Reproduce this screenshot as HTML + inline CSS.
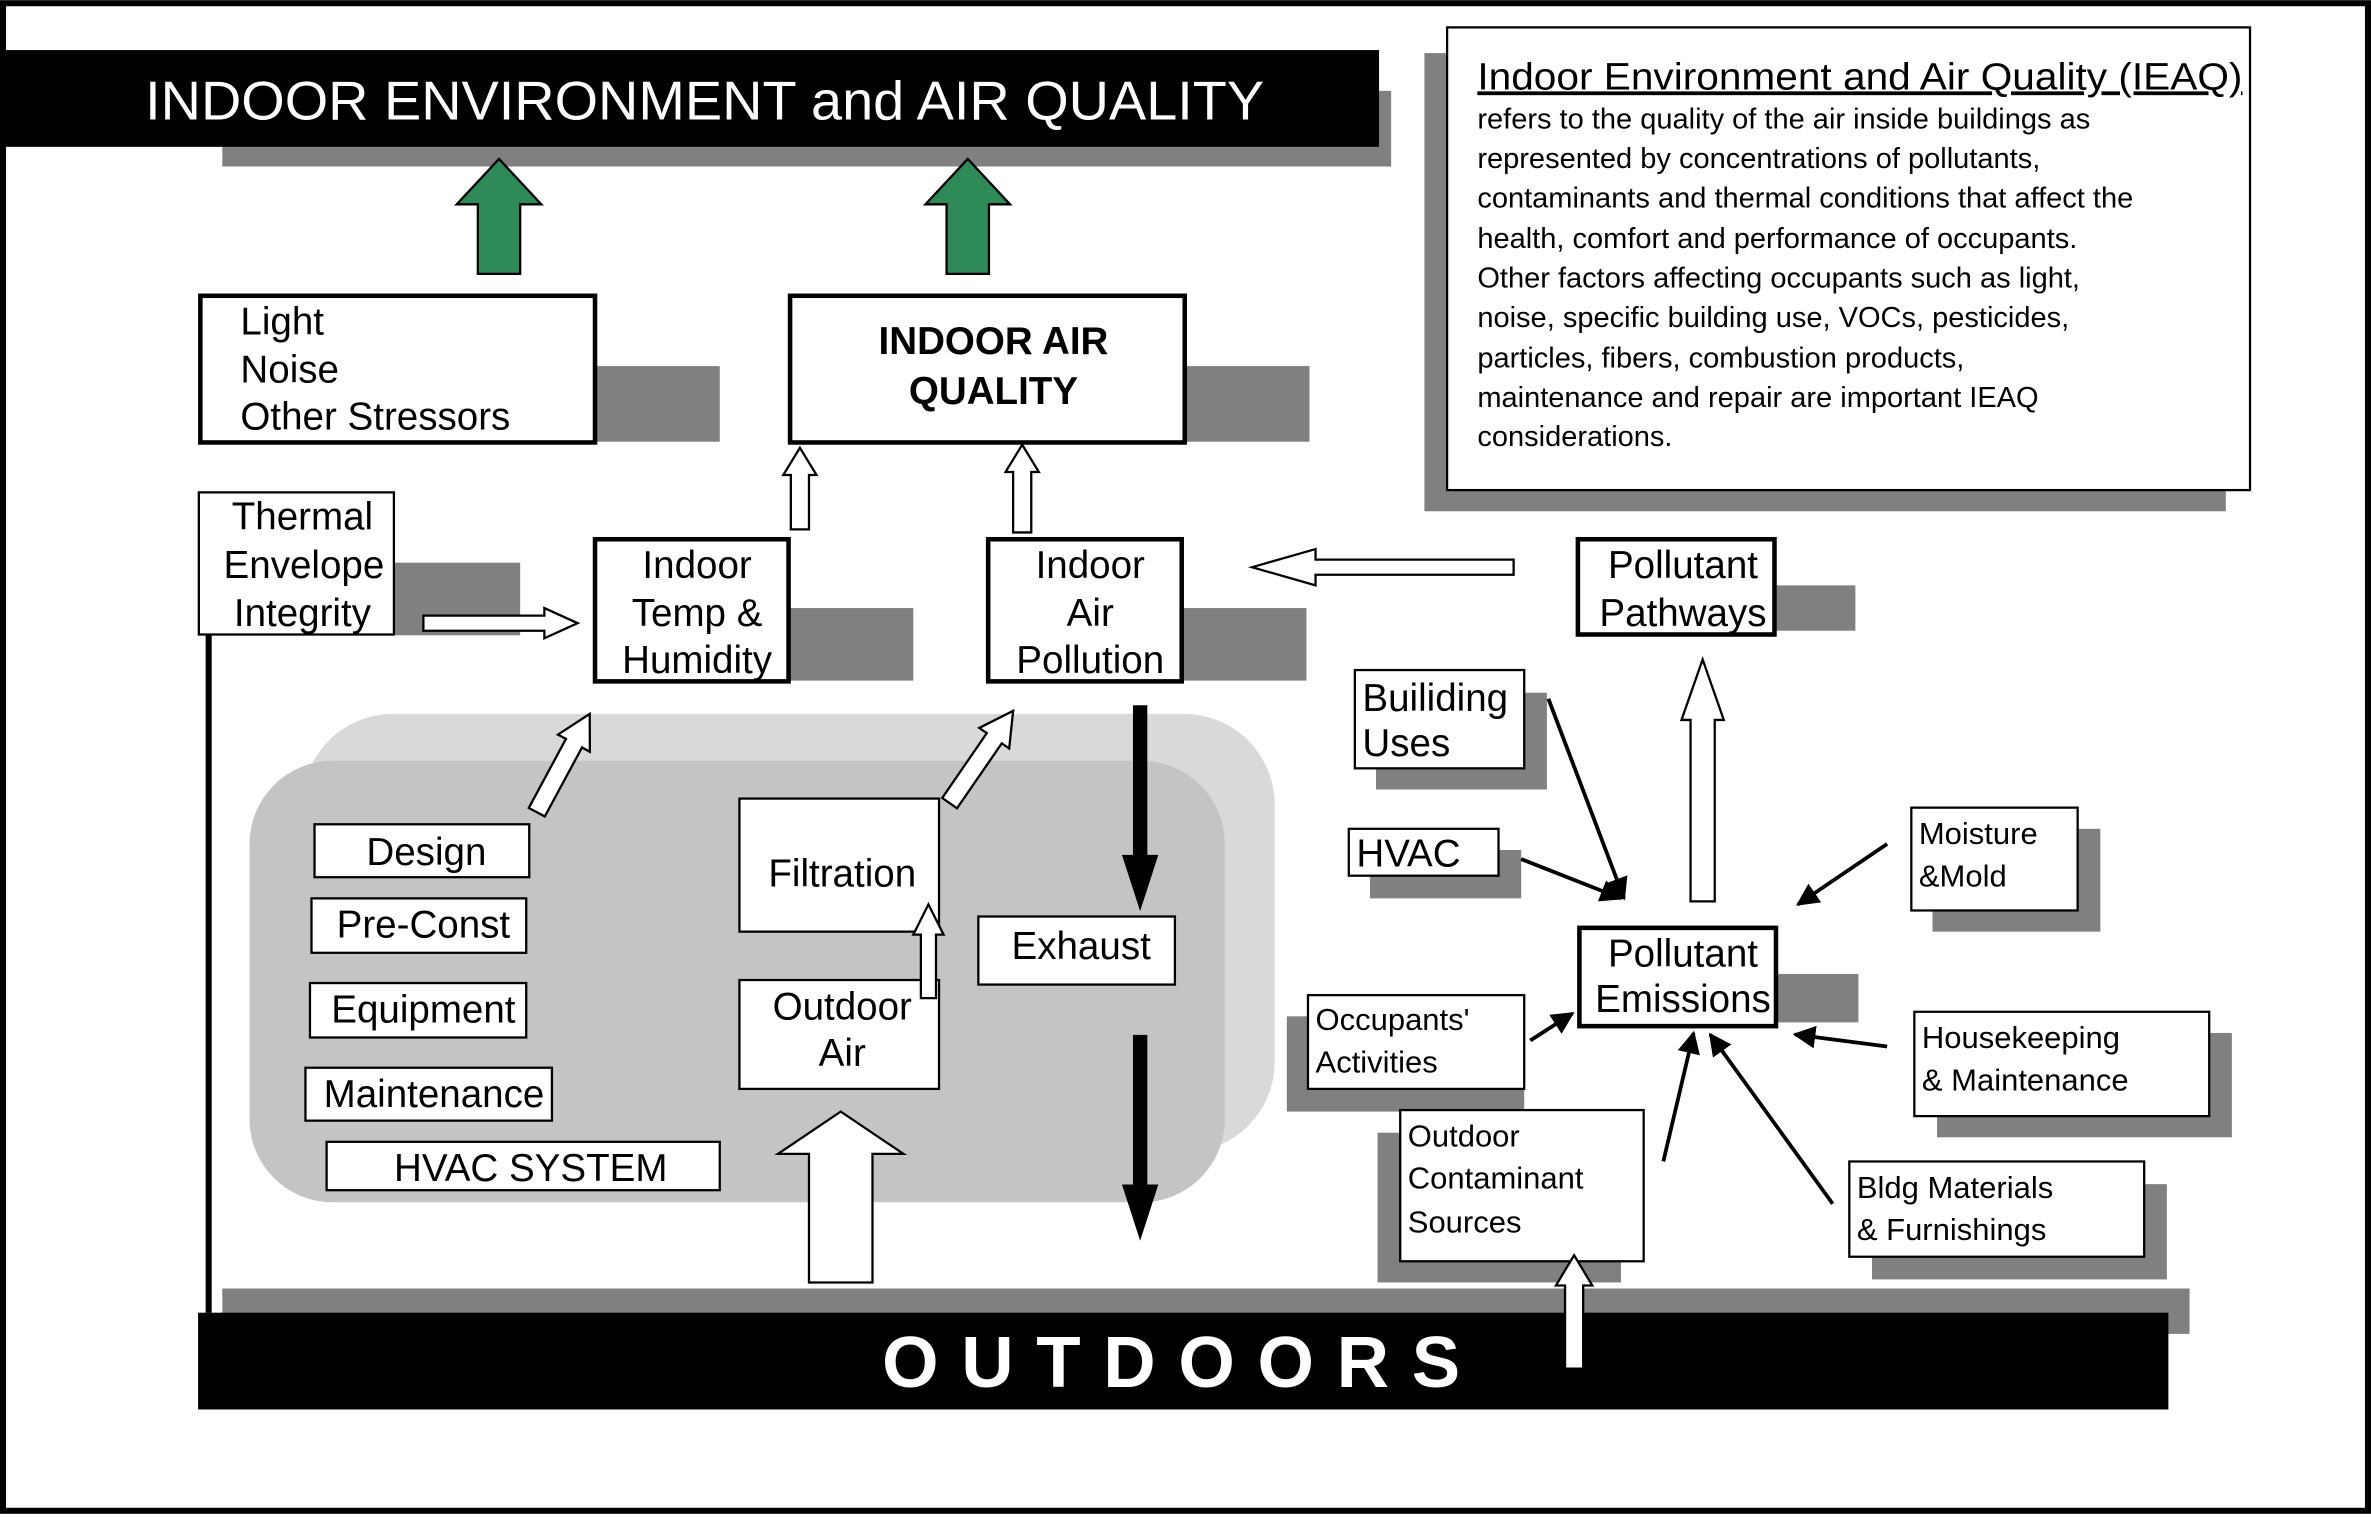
<!DOCTYPE html>
<html><head><meta charset="utf-8"><style>
html,body{margin:0;padding:0;background:#fff}
svg{display:block}
text{font-family:"Liberation Sans",Arial,sans-serif}
</style></head><body>
<svg id="s" width="2371" height="1517" viewBox="0 0 1568 1003" xmlns="http://www.w3.org/2000/svg">
<rect x="2" y="2" width="1564" height="997" fill="#fff" stroke="#000" stroke-width="4"/>
<rect x="147" y="60" width="773" height="50" fill="#808080"/>
<rect x="2" y="33" width="910" height="64" fill="#000"/>
<text x="96" y="79" font-size="36" fill="#fff" textLength="740" lengthAdjust="spacingAndGlyphs">INDOOR ENVIRONMENT and AIR QUALITY</text>
<rect x="942" y="35" width="530" height="303" fill="#808080"/>
<rect x="957" y="18" width="531" height="306" fill="#fff" stroke="#000" stroke-width="1.5"/>
<text x="977" y="59" font-size="25" text-decoration="underline" textLength="506" lengthAdjust="spacingAndGlyphs">Indoor Environment and Air Quality (IEAQ)</text>
<g font-size="19.2">
<text x="977" y="85">refers to the quality of the air inside buildings as</text>
<text x="977" y="111">represented by concentrations of pollutants,</text>
<text x="977" y="137">contaminants and thermal conditions that affect the</text>
<text x="977" y="164">health, comfort and performance of occupants.</text>
<text x="977" y="190">Other factors affecting occupants such as light,</text>
<text x="977" y="216">noise, specific building use,  VOCs, pesticides,</text>
<text x="977" y="243">particles, fibers, combustion products,</text>
<text x="977" y="269">maintenance and repair are important IEAQ</text>
<text x="977" y="295">considerations.</text>
</g>
<rect x="200" y="472" width="643" height="290" rx="60" fill="#d9d9d9"/>
<rect x="165" y="503" width="645" height="292" rx="55" fill="#c4c4c4"/>
<g fill="#808080">
<rect x="394" y="242" width="82" height="50"/>
<rect x="784" y="242" width="82" height="50"/>
<rect x="261" y="372" width="83" height="48"/>
<rect x="522" y="402" width="82" height="48"/>
<rect x="782" y="402" width="82" height="48"/>
<rect x="1174" y="387" width="53" height="30"/>
<rect x="1175" y="644" width="54" height="32"/>
<rect x="910" y="458" width="113" height="64"/>
<rect x="906" y="562" width="100" height="32"/>
<rect x="1278" y="548" width="111" height="68"/>
<rect x="851" y="672" width="157" height="63"/>
<rect x="1281" y="683" width="195" height="69"/>
<rect x="911" y="749" width="161" height="99"/>
<rect x="1238" y="783" width="195" height="63"/>
<rect x="147" y="852" width="1301" height="30"/>
</g>
<g fill="#fff" stroke="#000">
<rect x="132.5" y="195.5" width="261" height="97" stroke-width="3"/>
<rect x="522.5" y="195.5" width="261" height="97" stroke-width="3"/>
<rect x="131.5" y="325.5" width="129" height="94" stroke-width="1.5"/>
<rect x="393.5" y="356.5" width="128" height="94" stroke-width="3"/>
<rect x="653.5" y="356.5" width="128" height="94" stroke-width="3"/>
<rect x="1043.5" y="356.5" width="130" height="63" stroke-width="3"/>
<rect x="1044.5" y="613.5" width="130" height="65" stroke-width="3"/>
<rect x="896" y="443" width="112" height="65" stroke-width="1.5"/>
<rect x="892" y="548" width="99" height="31" stroke-width="1.5"/>
<rect x="1264" y="534" width="110" height="68" stroke-width="1.5"/>
<rect x="865" y="658" width="143" height="62" stroke-width="1.5"/>
<rect x="1266" y="669" width="195" height="69" stroke-width="1.5"/>
<rect x="926" y="734" width="161" height="100" stroke-width="1.5"/>
<rect x="1223" y="768" width="195" height="63" stroke-width="1.5"/>
<rect x="208" y="545" width="142" height="35" stroke-width="1.5"/>
<rect x="206" y="594" width="142" height="36" stroke-width="1.5"/>
<rect x="205" y="650" width="143" height="36" stroke-width="1.5"/>
<rect x="202" y="706" width="163" height="35" stroke-width="1.5"/>
<rect x="216" y="755" width="260" height="32" stroke-width="1.5"/>
<rect x="489" y="528" width="132" height="88" stroke-width="1.5"/>
<rect x="489" y="648" width="132" height="72" stroke-width="1.5"/>
<rect x="647" y="606" width="130" height="45" stroke-width="1.5"/>
</g>
<line x1="138" y1="420" x2="138" y2="868" stroke="#000" stroke-width="4"/>
<rect x="131" y="868" width="1303" height="64" fill="#000"/>
<text x="782" y="917" font-size="48" font-weight="bold" fill="#fff" text-anchor="middle" letter-spacing="15">OUTDOORS</text>
<g font-size="25.5">
<text x="159" y="221">Light</text><text x="159" y="253">Noise</text><text x="159" y="284">Other Stressors</text>
<text x="657" y="234" font-weight="bold" text-anchor="middle" font-size="25.5">INDOOR AIR</text>
<text x="657" y="267" font-weight="bold" text-anchor="middle" font-size="25.5">QUALITY</text>
<g text-anchor="middle">
<text x="200" y="350">Thermal</text><text x="201" y="382">Envelope</text><text x="200" y="414">Integrity</text>
<text x="461" y="382">Indoor</text><text x="461" y="414">Temp &amp;</text><text x="461" y="445">Humidity</text>
<text x="721" y="382">Indoor</text><text x="721" y="414">Air</text><text x="721" y="445">Pollution</text>
<text x="1113" y="382">Pollutant</text><text x="1113" y="414">Pathways</text>
<text x="1113" y="639">Pollutant</text><text x="1113" y="669">Emissions</text>
<text x="282" y="572">Design</text><text x="280" y="620">Pre-Const</text><text x="280" y="676">Equipment</text>
<text x="287" y="732">Maintenance</text><text x="351" y="781">HVAC SYSTEM</text>
<text x="557" y="586">Filtration</text>
<text x="557" y="674">Outdoor</text><text x="557" y="705">Air</text>
<text x="715" y="634">Exhaust</text>
</g>
<text x="901" y="470">Builiding</text><text x="901" y="500">Uses</text>
<text x="897" y="573">HVAC</text>
</g>
<g font-size="20.5">
<text x="1269" y="558">Moisture</text><text x="1269" y="586">&amp;Mold</text>
<text x="870" y="681">Occupants'</text><text x="870" y="709">Activities</text>
<text x="1271" y="693">Housekeeping</text><text x="1271" y="721">&amp; Maintenance</text>
<text x="931" y="758">Outdoor</text><text x="931" y="786">Contaminant</text><text x="931" y="815">Sources</text>
<text x="1228" y="792">Bldg Materials</text><text x="1228" y="820">&amp; Furnishings</text>
</g>
<g id="arrows"></g>
<defs><marker id="ah" viewBox="0 0 10 10" refX="9" refY="5" markerWidth="6" markerHeight="6" orient="auto"><path d="M0,0 L10,5 L0,10 z"/></marker></defs>
<g stroke="#000" stroke-width="2.5" marker-end="url(#ah)">
<line x1="1024" y1="462" x2="1074" y2="594"/>
<line x1="1006" y1="568" x2="1072" y2="594"/>
<line x1="1248" y1="558" x2="1189" y2="598"/>
<line x1="1248" y1="692" x2="1187" y2="684"/>
<line x1="1212" y1="796" x2="1131" y2="684"/>
<line x1="1100" y1="768" x2="1120" y2="683"/>
<line x1="1012" y1="688" x2="1040" y2="670"/>
</g>
</svg>
<script>
function arr(x1,y1,x2,y2,sw,hw,hl,fill,stroke){
 var dx=x2-x1,dy=y2-y1,L=Math.hypot(dx,dy),ux=dx/L,uy=dy/L,px=-uy,py=ux;
 var bx=x2-ux*hl,by=y2-uy*hl;
 var p=[[x1+px*sw/2,y1+py*sw/2],[bx+px*sw/2,by+py*sw/2],[bx+px*hw/2,by+py*hw/2],[x2,y2],
 [bx-px*hw/2,by-py*hw/2],[bx-px*sw/2,by-py*sw/2],[x1-px*sw/2,y1-py*sw/2]];
 var e=document.createElementNS("http://www.w3.org/2000/svg","polygon");
 e.setAttribute("points",p.map(function(q){return q[0].toFixed(1)+","+q[1].toFixed(1)}).join(" "));
 e.setAttribute("fill",fill);e.setAttribute("stroke",stroke);e.setAttribute("stroke-width","1.5");
 document.getElementById("arrows").appendChild(e);
}
var G="#2e8b57";
arr(330,181,330,105,28,56,30,G,"#000");
arr(640,181,640,105,28,56,30,G,"#000");
arr(529,350,529,296,12,22,18,"#fff","#000");
arr(676,352,676,294,12,22,18,"#fff","#000");
arr(280,412,382,412,10,20,22,"#fff","#000");
arr(1001,375,828,375,10,24,42,"#fff","#000");
arr(355,537,390,472,12,24,22,"#fff","#000");
arr(628,531,670,470,12,24,22,"#fff","#000");
arr(614,660,614,598,10,20,20,"#fff","#000");
arr(556,848,556,735,42,83,28,"#fff","#000");
arr(1126,596,1126,436,16,28,40,"#fff","#000");
arr(1041,905,1041,830,12,24,20,"#fff","#000");
arr(754,467,754,600,8,22,34,"#000","#000");
arr(754,685,754,818,8,22,34,"#000","#000");
</script>
</body></html>
